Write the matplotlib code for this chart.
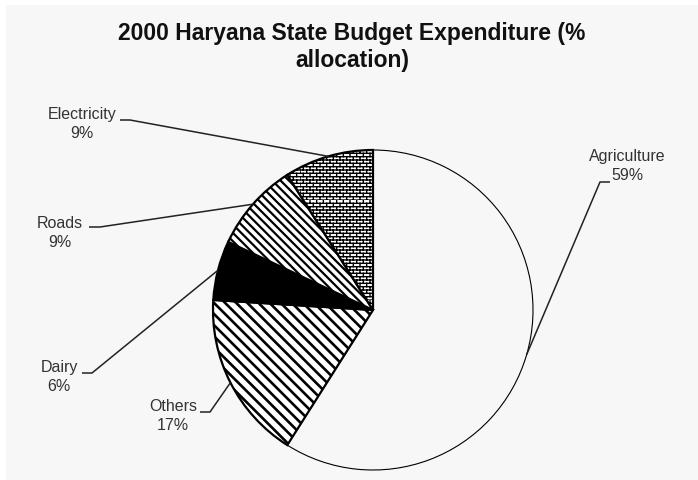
import warnings
import numpy as np
import matplotlib
matplotlib.use("Agg")
import matplotlib.pyplot as plt
from matplotlib import hatch as mhatch
from matplotlib.path import Path
from matplotlib.patches import Rectangle

warnings.filterwarnings("ignore")

categories = ["Agriculture", "Others", "Dairy", "Roads", "Electricity"]
shares = [59, 17, 6, 9, 9]
title = "2000 Haryana State Budget Expenditure (%\nallocation)"

hatches = [None, "\\" * 3, None, "\\" * 4, "B" * 5]
hatch_w = [1.0, 1.9, 1.0, 1.6, 1.0]
faces = ["#f7f7f7", "white", "black", "white", "white"]
edge_w = [0.8, 1.6, 1.6, 1.6, 1.6]

# label centres and leader stubs, pixels from top-left
label_px = [(627, 166), (173, 416), (59, 377), (60, 233), (82, 124)]
stub_px = [((610, 182), (600, 182)),
           ((200, 412), (210, 412)),
           ((82, 373), (92, 373)),
           ((89, 227), (100, 227)),
           ((120, 120), (130, 120))]

W, H = 698, 480
cx, cy, R = 373, 310, 160


class BrickHatch(mhatch.HatchPatternBase):
    # running bond brick texture, used by the 'B' hatch letter
    def __init__(self, hatch, density):
        self.rows = hatch.count("B") * density
        self.cols = self.rows // 2
        self.num_vertices = self.rows * 2 + self.rows * self.cols * 2

    def set_vertices_and_codes(self, vertices, codes):
        h = 1.0 / self.rows
        w = 1.0 / self.cols
        i = 0
        for r in range(self.rows):
            y = r * h
            vertices[i] = (0.0, y)
            vertices[i + 1] = (1.0, y)
            codes[i] = Path.MOVETO
            codes[i + 1] = Path.LINETO
            i += 2
            off = 0.5 * w if r % 2 else 0.0
            for c in range(self.cols):
                x = c * w + off
                vertices[i] = (x, y)
                vertices[i + 1] = (x, y + h)
                codes[i] = Path.MOVETO
                codes[i + 1] = Path.LINETO
                i += 2


mhatch._hatch_types.append(BrickHatch)

plt.rcParams["font.family"] = ["Liberation Sans", "DejaVu Sans"]
plt.rcParams["hatch.linewidth"] = 1.4


def to_data(p):
    return ((p[0] - cx) / R, (cy - p[1]) / R)


fig = plt.figure(figsize=(W / 100, H / 100), dpi=100, facecolor="white")
fig.patches.append(Rectangle((6 / W, 0), 1, 475 / H, transform=fig.transFigure,
                             facecolor="#f7f7f7", edgecolor="none", zorder=-10))

ax = fig.add_axes([0, 0, 1, 1])
ax.patch.set_visible(False)
wedges, _ = ax.pie(shares, startangle=90, counterclock=False, radius=1,
                   colors=faces, wedgeprops=dict(edgecolor="black"))
ax.set_xlim(-cx / R, (W - cx) / R)
ax.set_ylim((cy - H) / R, cy / R)
ax.axis("off")

for wd, hp, hw, lw in zip(wedges, hatches, hatch_w, edge_w):
    wd.set_linewidth(lw)
    if hp:
        wd.set_hatch(hp)
        if hasattr(wd, "set_hatch_linewidth"):
            wd.set_hatch_linewidth(hw)

for wd, name, val, lp, st in zip(wedges, categories, shares, label_px, stub_px):
    mid = np.deg2rad((wd.theta1 + wd.theta2) / 2)
    ex, ey = np.cos(mid), np.sin(mid)
    a = to_data(st[0])
    b = to_data(st[1])
    ax.plot([a[0], b[0], ex], [a[1], b[1], ey], color="#222222", lw=1.1,
            solid_capstyle="butt")
    tx, ty = to_data(lp)
    ax.text(tx, ty, f"{name}\n{val}%", ha="center", va="center",
            fontsize=11.5, color="#333333", linespacing=1.3)

fig.text(352 / W, 1 - 47 / H, title, ha="center", va="center",
         fontsize=16.5, fontweight="bold", color="#111111", linespacing=1.2)

plt.savefig("out.png", dpi=100, facecolor=fig.get_facecolor())
